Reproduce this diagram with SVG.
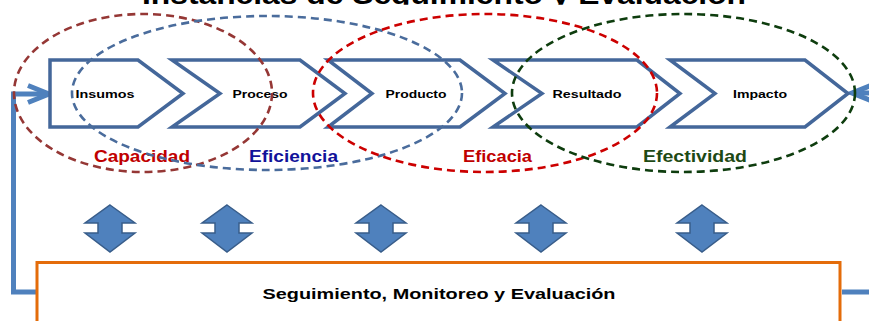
<svg xmlns="http://www.w3.org/2000/svg" xmlns:xlink="http://www.w3.org/1999/xlink" width="869" height="321" viewBox="0 0 869 321">
<style>
.chev{fill:#fff;stroke:#44679A;stroke-width:3.5;stroke-linejoin:miter}
.lbl{font-family:"Liberation Sans",Arial,sans-serif;font-weight:bold;font-size:11.5px;fill:#000;text-anchor:middle}
.cat{font-family:"Liberation Sans",Arial,sans-serif;font-weight:bold;font-size:16px}
.ell{fill:none;stroke-width:2.6;stroke-dasharray:8 5}
.dbl{fill:#4F81BD;stroke:#385D8A;stroke-width:1.5}
.fb{fill:none;stroke:#4F81BD;stroke-width:5}
</style>
<defs>
<clipPath id="tclip"><rect x="0" y="0" width="869" height="4.8"/></clipPath>
<path id="darrow" d="M0,205 L25,223 L12,223 L12,233 L25,233 L0,252 L-25,233 L-12,233 L-12,223 L-25,223 Z"/>
</defs>
<rect width="869" height="321" fill="#fff"/>
<g id="title" clip-path="url(#tclip)">
<text x="444" y="4" font-family="Liberation Sans,Arial,sans-serif" font-weight="bold" font-size="28" text-anchor="middle" textLength="604" lengthAdjust="spacingAndGlyphs">Instancias de Seguimiento y Evaluación</text>
</g>
<g id="connectors">
<path class="fb" d="M36,292 L13.5,292 L13.5,94 L48,94"/>
<path class="fb" d="M28,85.5 L49,94 L28,102.5"/>
<path class="fb" d="M842,292 L880,292 L880,93 L852,93"/>
<path class="fb" d="M872,85 L852,93 L872,101"/>
</g>
<g id="insumos">
<polygon class="chev" points="50,60 138,60 183,93.5 138,127 50,127"/>
<text class="lbl" x="105" y="98" textLength="59" lengthAdjust="spacingAndGlyphs">Insumos</text>
</g>
<g id="proceso">
<polygon class="chev" points="172,60 300,60 345,93.5 300,127 172,127 220,93.5"/>
<text class="lbl" x="260" y="98" textLength="55" lengthAdjust="spacingAndGlyphs">Proceso</text>
</g>
<g id="producto">
<polygon class="chev" points="328,60 460,60 505,93.5 460,127 328,127 372,93.5"/>
<text class="lbl" x="416" y="98" textLength="61" lengthAdjust="spacingAndGlyphs">Producto</text>
</g>
<g id="resultado">
<polygon class="chev" points="493,60 637,60 680,93.5 637,127 493,127 542,93.5"/>
<text class="lbl" x="587" y="98" textLength="69" lengthAdjust="spacingAndGlyphs">Resultado</text>
</g>
<g id="impacto">
<polygon class="chev" points="670,60 805,60 848,93.5 805,127 670,127 715,93.5"/>
<text class="lbl" x="760" y="98" textLength="54" lengthAdjust="spacingAndGlyphs">Impacto</text>
</g>
<g id="capacidad">
<ellipse class="ell" cx="143" cy="93" rx="129" ry="79" stroke="#953735"/>
<text class="cat" x="94" y="162" fill="#C00000" textLength="96" lengthAdjust="spacingAndGlyphs">Capacidad</text>
</g>
<g id="eficiencia">
<ellipse class="ell" cx="267" cy="93" rx="195" ry="77" stroke="#4A6C9C"/>
<text class="cat" x="249" y="162" fill="#12129A" textLength="89" lengthAdjust="spacingAndGlyphs">Eficiencia</text>
</g>
<g id="eficacia">
<ellipse class="ell" cx="485" cy="93" rx="172" ry="79" stroke="#CC0000"/>
<text class="cat" x="463" y="162" fill="#C00000" textLength="69" lengthAdjust="spacingAndGlyphs">Eficacia</text>
</g>
<g id="efectividad">
<ellipse class="ell" cx="683.5" cy="93" rx="171.5" ry="79" stroke="#0E3D0E"/>
<text class="cat" x="643" y="162" fill="#1E4A14" textLength="104" lengthAdjust="spacingAndGlyphs">Efectividad</text>
</g>
<g id="arrows">
<use xlink:href="#darrow" href="#darrow" class="dbl" x="110"/>
<use xlink:href="#darrow" href="#darrow" class="dbl" x="227"/>
<use xlink:href="#darrow" href="#darrow" class="dbl" x="381"/>
<use xlink:href="#darrow" href="#darrow" class="dbl" x="541"/>
<use xlink:href="#darrow" href="#darrow" class="dbl" x="702"/>
</g>
<g id="sme">
<rect x="37" y="262.5" width="803" height="70" fill="#fff" stroke="#E46C0A" stroke-width="3"/>
<text x="439" y="299" font-family="Liberation Sans,Arial,sans-serif" font-weight="bold" font-size="15" text-anchor="middle" textLength="353" lengthAdjust="spacingAndGlyphs">Seguimiento, Monitoreo y Evaluación</text>
</g>
</svg>
